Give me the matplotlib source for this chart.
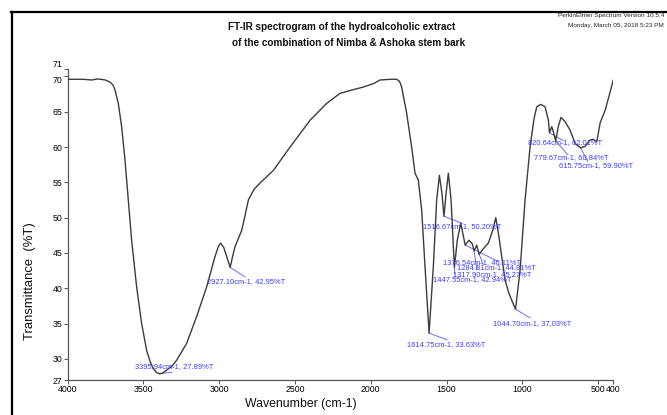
import matplotlib
matplotlib.use("Agg")
import matplotlib.pyplot as plt
from matplotlib.lines import Line2D

FAM = ['Liberation Sans', 'DejaVu Sans']
plt.rcParams['font.family'] = FAM

# ---- data -------------------------------------------------------------
wavenumber = [4000, 3900, 3840, 3800, 3750, 3720, 3700, 3687, 3665, 3643, 3621, 3599,
              3577, 3544, 3511, 3478, 3455, 3434, 3415, 3396, 3375, 3346, 3310, 3280,
              3214, 3148, 3082, 3027, 3005, 2990, 2970, 2950, 2927, 2910, 2895, 2851,
              2835, 2807, 2770, 2730, 2642, 2532, 2400, 2290, 2203, 2120, 2049, 1980,
              1939, 1870, 1829, 1810, 1796, 1763, 1730, 1708, 1686, 1664, 1642, 1615,
              1587, 1565, 1547, 1530, 1517, 1503, 1488, 1470, 1455, 1448, 1429, 1406,
              1390, 1377, 1352, 1330, 1318, 1301, 1285, 1257, 1224, 1195, 1175, 1158,
              1136, 1114, 1092, 1070, 1045, 1015, 982, 949, 923, 905, 879, 850, 828,
              821, 806, 796, 780, 763, 745, 718, 685, 652, 616, 586, 553, 532, 509,
              487, 454, 421, 400]
transmittance = [69.6, 69.6, 69.5, 69.65, 69.5, 69.2, 68.8, 68.1, 66.2, 62.9, 58.2, 52.5,
                 46.8, 40.2, 35.0, 31.2, 29.6, 28.65, 28.1, 27.89, 27.95, 28.4, 29.0, 29.8,
                 32.2, 36.0, 40.2, 44.5, 45.9, 46.4, 45.8, 44.5, 42.95, 44.6, 45.9, 48.2,
                 49.7, 52.5, 54.0, 54.9, 56.7, 60.0, 63.8, 66.2, 67.6, 68.1, 68.5, 69.0,
                 69.5, 69.6, 69.6, 69.3, 68.5, 64.8, 60.0, 56.3, 55.3, 51.1, 43.1, 33.63,
                 43.1, 52.5, 56.0, 53.4, 50.20, 53.4, 56.3, 52.5, 45.9, 42.94, 46.8, 49.2,
                 47.5, 46.11, 46.8, 46.3, 45.27, 46.1, 44.81, 45.6, 46.4, 48.2, 50.0, 47.8,
                 44.5, 41.2, 39.5, 38.3, 37.03, 42.5, 52.5, 60.0, 64.0, 65.7, 66.05, 65.7, 63.8,
                 62.01, 62.9, 62.2, 60.84, 62.9, 64.2, 63.6, 62.4, 60.5, 59.90, 60.1, 61.0, 61.1, 60.75,
                 63.4, 65.2, 67.8, 69.5]

peak_wn = [3395.94, 2927.10, 1614.75, 1516.67, 1376.54, 1284.81, 1317.90, 1447.55,
           1044.70, 820.64, 779.67, 615.75]
peak_t = [27.89, 42.95, 33.63, 50.20, 46.11, 44.81, 45.27, 42.94, 37.03, 62.01, 60.84, 59.90]

x_ticks = [4000, 3500, 3000, 2500, 2000, 1500, 1000, 500, 400]
y_ticks = [27, 30, 35, 40, 45, 50, 55, 60, 65, 70, 71]

# ---- layout (label positions in data coords) ---------------------------
label_xy = [(3555, 28.84), (3080, 40.9), (1761, 31.96), (1656, 48.67), (1524, 43.7),
            (1431, 42.86), (1458, 42.0), (1590, 41.16), (1194, 34.93), (962, 60.57),
            (923, 58.45), (758, 57.45)]
leader_end = [(3311, 28.1), (2829, 41.6), (1497, 32.7), (1398, 49.2), (1160, 43.8),
              (1259, 43.4), (1300, 42.6), (1447, 42.0), (949, 35.8), (730, 60.9),
              (700, 58.9), (570, 58.0)]

W, H = 667, 415
fig = plt.figure(figsize=(W / 100, H / 100), dpi=100)
ax = fig.add_axes([67.5 / W, 1 - 380 / H, (613.3 - 67.5) / W, (380 - 69.4) / H])

blue = '#3a3aff'
ax.plot(wavenumber, transmittance, color='#3c3c3c', lw=1.0, zorder=3)

for (px, pt), (ex, ey) in zip(zip(peak_wn, peak_t), leader_end):
    ax.plot([px, ex], [pt, ey], color='#6a6aff', lw=0.7, zorder=2)
for px, pt, (tx, ty) in zip(peak_wn, peak_t, label_xy):
    ax.text(tx, ty, f"{px:.2f}cm-1, {pt:.2f}%T", color=blue, fontsize=5.4,
            ha='left', va='center', zorder=4)

ax.set_xlim(4000, 400)
ax.set_ylim(27, 71)
ax.set_xticks(x_ticks)
ax.set_xticklabels([str(v) for v in x_ticks])
ax.set_yticks(y_ticks)
ax.set_yticklabels([str(v) for v in y_ticks])
for s in ['top', 'right']:
    ax.spines[s].set_visible(False)
for s in ['left', 'bottom']:
    ax.spines[s].set_color('#555555')
    ax.spines[s].set_linewidth(0.9)
ax.tick_params(axis='both', labelsize=6.3, length=3, width=0.7, color='#555555', pad=0.5,
               direction='out')
ylabels = ax.get_yticklabels()
ylabels[-1].set_va('bottom')
ylabels[-2].set_va('top')
ax.set_xlabel('Wavenumber (cm-1)', fontsize=8.8, color='#111111')
ax.xaxis.set_label_coords((301 - 67.5) / (613.3 - 67.5), -(404 - 380) / (380 - 69.4))
ax.set_ylabel('Transmittance  (%T)', fontsize=9.4, color='#111111')
ax.yaxis.set_label_coords(-(67.5 - 30) / (613.3 - 67.5), (380 - 281) / (380 - 69.4))
ax.xaxis.label.set_va('center')
ax.yaxis.label.set_va('center')

fig.text(342 / W, 1 - 27 / H, 'FT-IR spectrogram of the hydroalcoholic extract',
         ha='center', va='center', fontsize=7.2, fontweight='bold', color='#111111')
fig.text(349 / W, 1 - 43 / H, 'of the combination of Nimba & Ashoka stem bark',
         ha='center', va='center', fontsize=7.2, fontweight='bold', color='#111111')
fig.text(664 / W, 1 - 16 / H, 'PerkinElmer Spectrum Version 10.5.4', ha='right',
         va='center', fontsize=4.6, color='#222222')
fig.text(664 / W, 1 - 25 / H, 'Monday, March 05, 2018 5:23 PM', ha='right',
         va='center', fontsize=4.6, color='#222222')

# outer frame (left and top edges)
fig.add_artist(Line2D([12 / W, 12 / W], [0, 1 - 12 / H], transform=fig.transFigure,
                      color='black', lw=1.6))
fig.add_artist(Line2D([11 / W, 1], [1 - 12 / H, 1 - 12 / H], transform=fig.transFigure,
                      color='black', lw=1.6))

fig.savefig('out.png', dpi=100)
